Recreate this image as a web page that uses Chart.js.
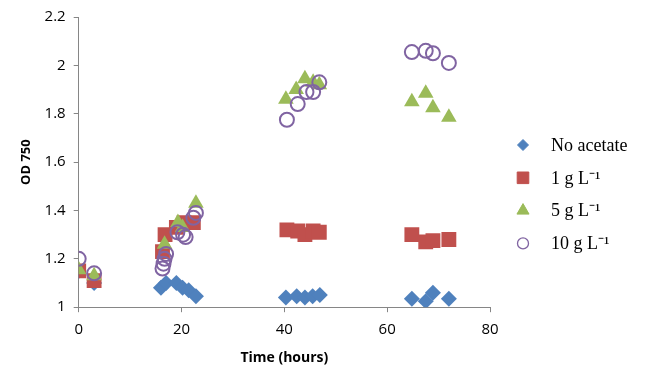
<!DOCTYPE html>
<html>
<head>
<meta charset="utf-8">
<script src="https://cdn.jsdelivr.net/npm/chart.js@4"></script>
<style>
html,body{margin:0;padding:0;background:#fff;}
#wrap{position:relative;width:654px;height:370px;}
</style>
</head>
<body>
<div id="wrap"><canvas id="c" width="654" height="370"></canvas></div>
<script>
// Series labels
const seriesLabels = ["No acetate", "1 g L\u207B\u00B9", "5 g L\u207B\u00B9", "10 g L\u207B\u00B9"];

// No acetate (diamonds)
const noAcetateTime = [0, 3, 16, 17, 19, 20.2, 21.4, 22.8, 40.3, 42.4, 44, 45.5, 46.9, 64.8, 67.5, 68.9, 72];
const noAcetateOD   = [1.15, 1.10, 1.08, 1.10, 1.10, 1.08, 1.07, 1.045, 1.04, 1.045, 1.04, 1.045, 1.05, 1.035, 1.025, 1.06, 1.035];

// 1 g/L (squares)
const ace1Time = [0, 3, 16.3, 16.8, 19, 20.5, 22.3, 40.5, 42.6, 44, 45.6, 46.8, 64.8, 67.5, 68.9, 72];
const ace1OD   = [1.15, 1.11, 1.23, 1.30, 1.33, 1.35, 1.35, 1.32, 1.315, 1.30, 1.315, 1.31, 1.30, 1.27, 1.275, 1.28];

// 5 g/L (triangles)
const ace5Time = [0, 3, 16.7, 19.3, 20.2, 22.8, 40.3, 42.3, 44, 45.6, 46.8, 64.8, 67.5, 68.9, 72];
const ace5OD   = [1.155, 1.13, 1.26, 1.35, 1.33, 1.43, 1.86, 1.90, 1.945, 1.93, 1.92, 1.85, 1.885, 1.825, 1.785];

// 10 g/L (open circles)
const ace10Time = [0, 3, 16.3, 16.5, 16.7, 17.0, 19.2, 20.3, 20.8, 22.3, 22.8, 40.5, 42.6, 44.3, 45.6, 46.8, 64.8, 67.5, 68.9, 72];
const ace10OD   = [1.20, 1.14, 1.16, 1.18, 1.20, 1.22, 1.31, 1.30, 1.29, 1.37, 1.39, 1.775, 1.84, 1.89, 1.89, 1.93, 2.055, 2.06, 2.05, 2.01];

// Axis ticks
const xTicks = [0, 20, 40, 60, 80];
const yTicks = [1, 1.2, 1.4, 1.6, 1.8, 2, 2.2];

const pts = (t, v) => t.map((x, i) => ({x: x, y: v[i]}));

const axisColor = '#868686';
const tickFont = {family: 'Open Sans', size: 15};

// Legend marker radii (smaller than the plotted marks)
const legendRadius = [5.5, 8.2, 7, 5.5];

const sideLegend = {
  id: 'sideLegend',
  afterDraw(chart) {
    const ctx = chart.ctx;
    const x0 = 523, y0 = 145, dy = 32.8, textX = 551;
    ctx.save();
    chart.data.datasets.forEach((ds, i) => {
      const y = y0 + dy * i;
      ctx.fillStyle = ds.backgroundColor;
      ctx.strokeStyle = ds.borderColor;
      ctx.lineWidth = ds.pointStyle === 'circle' ? 1.3 : 0;
      Chart.helpers.drawPoint(ctx, {pointStyle: ds.pointStyle, radius: legendRadius[i], rotation: 0, borderWidth: ctx.lineWidth}, x0, y);
      ctx.fillStyle = '#000';
      ctx.font = '18px "Liberation Serif"';
      ctx.textBaseline = 'middle';
      ctx.textAlign = 'left';
      ctx.fillText(ds.label, textX, y + 1);
    });
    ctx.restore();
  }
};

new Chart(document.getElementById('c'), {
  type: 'scatter',
  data: {
    datasets: [
      {label: seriesLabels[0], data: pts(noAcetateTime, noAcetateOD), pointStyle: 'rectRot', pointRadius: 8, pointHoverRadius: 8,
       backgroundColor: '#4F81BD', borderColor: '#4F81BD', borderWidth: 0, order: 4},
      {label: seriesLabels[1], data: pts(ace1Time, ace1OD), pointStyle: 'rect', pointRadius: 10.5, pointHoverRadius: 10.5,
       backgroundColor: '#C0504D', borderColor: '#C0504D', borderWidth: 0, order: 3},
      {label: seriesLabels[2], data: pts(ace5Time, ace5OD), pointStyle: 'triangle', pointRadius: 9, pointHoverRadius: 9,
       backgroundColor: '#9BBB59', borderColor: '#9BBB59', borderWidth: 0, order: 2},
      {label: seriesLabels[3], data: pts(ace10Time, ace10OD), pointStyle: 'circle', pointRadius: 7, pointHoverRadius: 7,
       backgroundColor: 'rgba(0,0,0,0)', borderColor: '#8064A2', borderWidth: 2, order: 1}
    ]
  },
  options: {
    responsive: false,
    animation: false,
    layout: {padding: {top: 15, right: 164, left: 14, bottom: 0}},
    plugins: {
      tooltip: {enabled: false},
      legend: {display: false}
    },
    scales: {
      x: {
        type: 'linear', min: 0, max: 80,
        afterBuildTicks: (axis) => { axis.ticks = xTicks.map(v => ({value: v})); },
        ticks: {color: '#000', font: tickFont, padding: 9},
        grid: {drawOnChartArea: false, drawTicks: true, tickLength: 5, color: axisColor},
        border: {display: true, color: axisColor},
        title: {display: true, text: 'Time (hours)', color: '#000', font: {family: 'Open Sans', size: 14, weight: 'bold'}, padding: {top: 1, bottom: 4}}
      },
      y: {
        min: 1, max: 2.2,
        afterBuildTicks: (axis) => { axis.ticks = yTicks.map(v => ({value: v})); },
        ticks: {color: '#000', font: tickFont, padding: 8, callback: (v) => String(Number(v.toFixed(1)))},
        grid: {drawOnChartArea: false, drawTicks: true, tickLength: 5, color: axisColor},
        border: {display: true, color: axisColor},
        title: {display: true, text: 'OD 750', color: '#000', font: {family: 'Open Sans', size: 13, weight: 'bold'}, padding: {top: 4, bottom: 3}}
      }
    }
  },
  plugins: [sideLegend]
});
</script>
</body>
</html>
